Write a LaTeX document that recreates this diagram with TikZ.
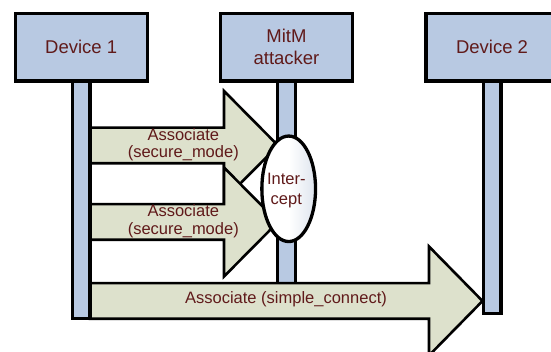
\documentclass[tikz,border=0pt]{standalone}
\usepackage{fontspec}
\setmainfont{Liberation Sans}
\usetikzlibrary{shapes.geometric}
\definecolor{boxblue}{RGB}{184,201,226}
\definecolor{arrowfill}{RGB}{221,225,204}
\definecolor{txt}{RGB}{96,26,26}
\definecolor{ellout}{RGB}{222,228,238}
\newcommand{\blockarrow}[4]{% #1 tail x, #2 head base x, #3 tip x, #4 centre y
  \draw[barrow] (#1,#4-17.8) -- (#2,#4-17.8) -- (#2,#4-54.5) -- (#3,#4)
    -- (#2,#4+54.5) -- (#2,#4+17.8) -- (#1,#4+17.8) -- cycle;}
\begin{document}
\begin{tikzpicture}[x=1pt,y=-1pt,
  box/.style={draw=black, line width=3.3pt, fill=boxblue, minimum width=132pt,
    minimum height=67.7pt, inner sep=0pt, align=center, text=txt,
    font=\fontsize{18.5}{22.3}\selectfont},
  life/.style={draw=black, line width=3.3pt, fill=boxblue, minimum width=17.7pt, inner sep=0pt},
  barrow/.style={draw=black, line width=2.6pt, fill=arrowfill, line join=miter},
  msg/.style={text=txt, align=center, font=\fontsize{16.5}{17.5}\selectfont, inner sep=0pt},
  intercept/.style={ellipse, draw=black, line width=3.3pt, minimum width=53.7pt,
    minimum height=105.5pt, inner sep=0pt, left color=white, right color=ellout,
    middle color=white},
]
\clip (0,0) rectangle (551,352);
% lifelines (under the boxes)
\node[life, minimum height=209pt] (l2) at (286.5,185.5) {};
\node[life, minimum height=232.3pt] (l3) at (492.2,197.15) {};
% header boxes
\node[box] (d1) at (81.2,47.2) {Device 1};
\node[box, minimum width=131.5pt] (mitm) at (286.5,47.2) {MitM\\attacker};
\node[box] (d2) at (492,47.2) {Device 2};
% messages 1 and 2
\blockarrow{90}{224}{278}{145.5}
\blockarrow{90}{224}{278}{222}
\node[msg] (m1) at (183.3,144.7) {Associate\\(secure\_mode)};
\node[msg] (m2) at (183.3,221) {Associate\\(secure\_mode)};
% intercept
\node[intercept] (ic) at (288.7,188.8) {};
\node[msg, font=\fontsize{16.5}{19.3}\selectfont] (ict) at (286.3,190.5) {Inter-\\cept};
% message 3
\blockarrow{90}{429}{482.5}{301}
\node[msg] (m3) at (286,299.2) {Associate (simple\_connect)};
% lifeline of device 1 on top
\node[life, minimum height=237.3pt] (l1) at (81.2,199.65) {};
\end{tikzpicture}
\end{document}
